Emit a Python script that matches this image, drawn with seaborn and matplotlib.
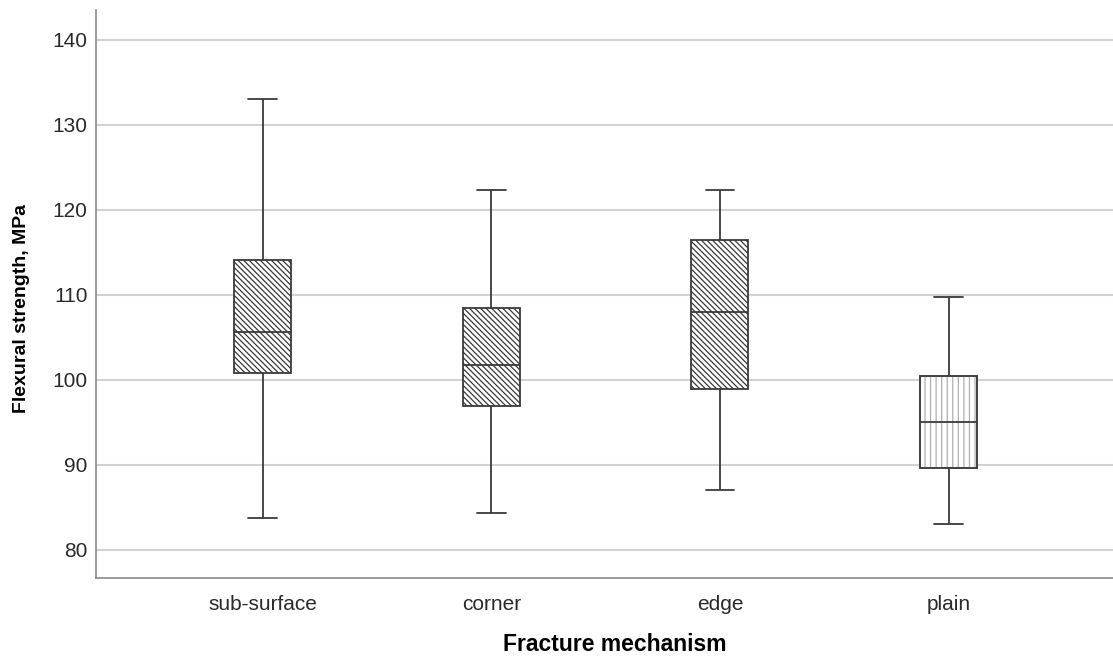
import numpy as np
import pandas as pd
import matplotlib
matplotlib.use("Agg")
import matplotlib.pyplot as plt
from matplotlib.patches import PathPatch
import seaborn as sns

# Five-number summaries of flexural strength (MPa) per fracture mechanism
categories = ["sub-surface", "corner", "edge", "plain"]
lower_whisker = [83.8, 84.4, 87.1, 83.0]
q1 = [100.8, 96.9, 98.9, 89.6]
median = [105.6, 101.7, 108.0, 95.0]
q3 = [114.1, 108.5, 116.4, 100.4]
upper_whisker = [133.0, 122.3, 122.3, 109.7]
y_ticks = [80, 90, 100, 110, 120, 130, 140]

# Long-form table: the five summary values of each group reproduce the
# quartiles exactly under linear percentile interpolation
rows = []
for i, cat in enumerate(categories):
    for v in (lower_whisker[i], q1[i], median[i], q3[i], upper_whisker[i]):
        rows.append({"mechanism": cat, "strength": v})
df = pd.DataFrame(rows)

sns.set_theme(style="white")
plt.rcParams["font.family"] = ["Liberation Sans", "DejaVu Sans"]
plt.rcParams["hatch.linewidth"] = 0.9

fig = plt.figure(figsize=(11.13, 6.58), dpi=100)
ax = fig.add_axes([0.0863, 0.1216, 0.9137, 0.8632])

line_col = "#3a3a3a"
sns.boxplot(
    data=df, x="mechanism", y="strength", order=categories,
    whis=(0, 100), width=0.25, color="white", linecolor=line_col,
    linewidth=1.3, ax=ax, zorder=3,
)

# Hatch fills: diagonal lines for the first three groups, light vertical
# lines for the plain group
boxes = [p for p in ax.patches]
for i, box in enumerate(boxes):
    if i < 3:
        box.set_hatch("\\\\\\\\\\\\")
        box.set_edgecolor(line_col)
    else:
        box.set_hatch("|||")
        box.set_edgecolor("#b0b0b0")
        outline = PathPatch(box.get_path(), transform=box.get_transform(),
                            fill=False, edgecolor=line_col, linewidth=1.3,
                            zorder=box.get_zorder() + 0.1)
        ax.add_patch(outline)

ax.set_xlim(-0.728, 3.719)
ax.set_ylim(76.7, 143.5)
ax.set_yticks(y_ticks)
ax.set_yticklabels([str(t) for t in y_ticks])

ax.yaxis.grid(True, color="#d2d2d2", linewidth=1.5, zorder=0)
ax.xaxis.grid(False)
ax.set_axisbelow(True)

for side in ("top", "right"):
    ax.spines[side].set_visible(False)
for side in ("left", "bottom"):
    ax.spines[side].set_color("#8a8a8a")
    ax.spines[side].set_linewidth(1.2)

ax.tick_params(axis="both", length=0, labelsize=15, colors="#2a2a2a")
ax.tick_params(axis="y", pad=6)
ax.tick_params(axis="x", pad=12)

ax.set_xlabel("Fracture mechanism", fontsize=16.5, fontweight="bold", color="black")
ax.set_ylabel("Flexural strength, MPa", fontsize=14, fontweight="bold", color="black")
ax.xaxis.set_label_coords(0.51, -0.097)
ax.yaxis.set_label_coords(-0.065, 0.474)

fig.savefig("out.png", dpi=100, facecolor="white")
